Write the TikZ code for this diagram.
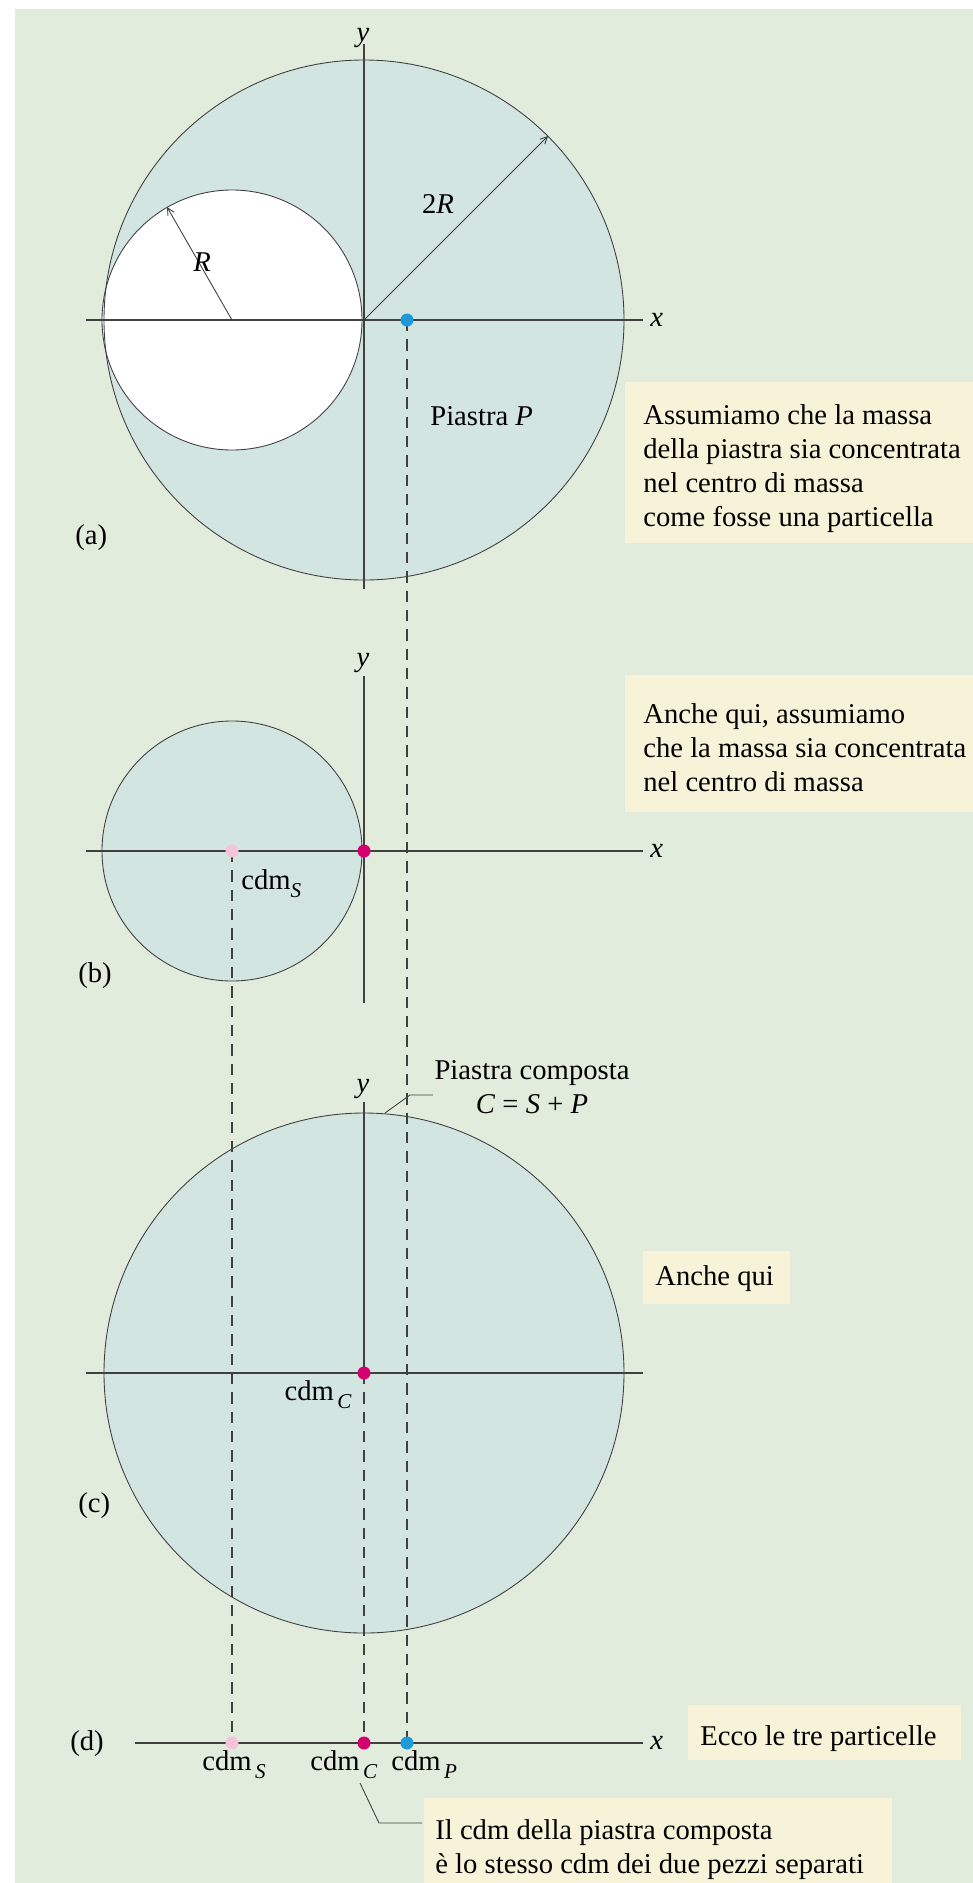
\documentclass[tikz,border=0pt]{standalone}
\usepackage{fontspec}
\setmainfont{Liberation Serif}
\usetikzlibrary{arrows.meta}
\definecolor{bggreen}{HTML}{E2ECDC}
\definecolor{platefill}{HTML}{D3E5E1}
\definecolor{notefill}{HTML}{F7F3D8}
\definecolor{axisgray}{HTML}{404040}
\definecolor{dotblue}{HTML}{1E9AD9}
\definecolor{dotmagenta}{HTML}{D4006E}
\definecolor{dotpink}{HTML}{F5C4DA}
\newcommand{\cdmlab}[2][0pt]{cdm\hspace{#1}\raisebox{-0.3em}{\fontsize{12}{12}\selectfont\textit{#2}}}
\begin{document}
\begin{tikzpicture}[x=0.2mm, y=0.2mm]
\tikzstyle{every node}+=[inner sep=0pt, font=\fontsize{16.3}{19.3}\selectfont]
\tikzstyle{axis}=[line width=1.1pt, draw=axisgray]
\tikzstyle{rim}=[line width=0.5pt, draw=axisgray]
\tikzstyle{guide}=[line width=1.1pt, draw=axisgray, dash pattern=on 6.5pt off 4.5pt]
\tikzstyle{radius}=[line width=0.5pt, draw=axisgray, -{Straight Barb[length=4pt,width=4pt]}]
\tikzstyle{leader}=[line width=0.5pt, draw=axisgray]
\tikzstyle{notetext}=[align=left, anchor=base west]
\useasboundingbox (0,0) rectangle (973,-1883);
\fill[bggreen] (15,-9) rectangle (973,-1883);
\fill[platefill] (364,-320) circle (260);
\fill[white] (232,-320) circle (130);
\draw[rim] (364,-320) circle (260);
\draw[rim] (232,-320) circle (130);
\fill[platefill] (232,-851) circle (130);
\draw[rim] (232,-851) circle (130);
\fill[platefill] (364,-1373) circle (260);
\draw[rim] (364,-1373) circle (260);
\coordinate (oA) at (364,-320);
\coordinate (oS) at (232,-320);
\coordinate (rimA) at (548,-136);
\coordinate (rimS) at (167,-207);
\coordinate (xA1) at (86,-320);
\coordinate (xA2) at (643,-320);
\coordinate (yA1) at (364,-44);
\coordinate (yA2) at (364,-589);
\coordinate (xB1) at (86,-851);
\coordinate (xB2) at (643,-851);
\coordinate (yB1) at (364,-676);
\coordinate (yB2) at (364,-1003);
\coordinate (xC1) at (86,-1373);
\coordinate (xC2) at (643,-1373);
\coordinate (yC1) at (364,-1102);
\coordinate (xD1) at (135,-1743);
\coordinate (xD2) at (643,-1743);
\coordinate (cmP) at (407,-320);
\coordinate (cmS) at (232,-851);
\coordinate (cmC) at (364,-1373);
\coordinate (dP) at (407,-1743);
\coordinate (dS) at (232,-1743);
\coordinate (dC) at (364,-1743);
\draw[axis] (xA1) -- (xA2);
\draw[axis] (yA1) -- (yA2);
\draw[axis] (xB1) -- (xB2);
\draw[axis] (yB1) -- (yB2);
\draw[axis] (xC1) -- (xC2);
\draw[axis] (yC1) -- (cmC);
\draw[axis] (xD1) -- (xD2);
\draw[radius] (oA) -- (rimA);
\draw[radius] (oS) -- (rimS);
\draw[guide] (cmP) -- (dP);
\draw[guide] (cmS) -- (dS);
\draw[guide] (cmC) -- (dC);
\fill[dotblue] (cmP) circle (6.5);
\fill[dotpink] (cmS) circle (6.5);
\fill[dotmagenta] (364,-851) circle (6.5);
\fill[dotmagenta] (cmC) circle (6.5);
\fill[dotpink] (dS) circle (6.5);
\fill[dotmagenta] (dC) circle (6.5);
\fill[dotblue] (dP) circle (6.5);
\node[anchor=base] (yA) at (363,-41) {\textit{y}};
\node[anchor=west] (xA) at (650,-320) {\textit{x}};
\node (lab2R) at (438,-204) {2\textit{R}};
\node (labR) at (202,-262) {\textit{R}};
\node[anchor=base west] (plateP) at (430,-425) {Piastra \textit{P}};
\node[anchor=base west] (tagA) at (75,-544) {(a)};
\node[anchor=base] (yB) at (363,-666) {\textit{y}};
\node[anchor=west] (xB) at (650,-851) {\textit{x}};
\node[anchor=base west] (labS) at (241,-889) {\cdmlab{S}};
\node[anchor=base west] (tagB) at (78,-982) {(b)};
\node[anchor=base] (yC) at (363,-1092) {\textit{y}};
\node[anchor=base east] (labC) at (352,-1400) {\cdmlab[2pt]{C}};
\node[anchor=base west] (tagC) at (78,-1512) {(c)};
\node[anchor=base west] (tagD) at (70,-1750) {(d)};
\node[anchor=west] (xD) at (650,-1743) {\textit{x}};
\node[anchor=base west] (labDS) at (202,-1770) {\cdmlab[2pt]{S}};
\node[anchor=base west] (labDC) at (310,-1770) {\cdmlab[2pt]{C}};
\node[anchor=base west] (labDP) at (391,-1770) {\cdmlab[2pt]{P}};
\node[align=center, anchor=base] (plateC) at (532,-1113) {Piastra composta\\\textit{C} = \textit{S} + \textit{P}};
\coordinate (legC1) at (385,-1113);
\coordinate (legC2) at (410,-1095);
\coordinate (legC3) at (433,-1095);
\draw[leader] (legC1) -- (legC2) -- (legC3);
\fill[notefill] (625,-382) rectangle (973,-543);
\node[notetext] (noteA) at (643,-526) {Assumiamo che la massa\\della piastra sia concentrata\\nel centro di massa\\come fosse una particella};
\fill[notefill] (625,-675) rectangle (973,-812);
\node[notetext] (noteB) at (643,-791) {Anche qui, assumiamo\\che la massa sia concentrata\\nel centro di massa};
\fill[notefill] (643,-1251) rectangle (790,-1304);
\node[notetext] (noteC) at (655,-1285) {Anche qui};
\fill[notefill] (688,-1705) rectangle (961,-1760);
\node[notetext] (noteD) at (700,-1745) {Ecco le tre particelle};
\fill[notefill] (424,-1798) rectangle (892,-1883);
\node[notetext] (noteE) at (435,-1873) {Il cdm della piastra composta\\è lo stesso cdm dei due pezzi separati};
\coordinate (legD1) at (360,-1783);
\coordinate (legD2) at (379,-1823);
\coordinate (legD3) at (422,-1823);
\draw[leader] (legD1) -- (legD2) -- (legD3);
\end{tikzpicture}
\end{document}
